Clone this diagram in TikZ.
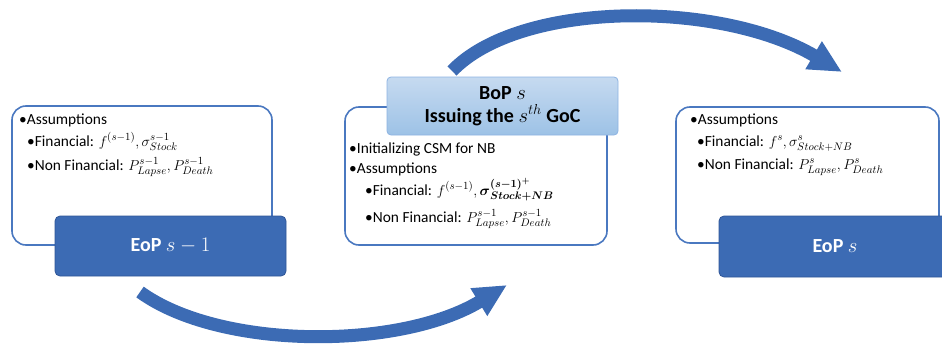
\documentclass[tikz,border=0pt]{standalone}
\usepackage{amsmath}
\usepackage{fontspec}
\setmainfont{Carlito}
\usetikzlibrary{arrows.meta}
\definecolor{dkblue}{HTML}{3C6BB4}
\definecolor{dkedge}{HTML}{2F5597}
\definecolor{lnblue}{HTML}{4A78C0}
\definecolor{ltop}{HTML}{C6DAF0}
\definecolor{lbot}{HTML}{9DC2E6}
\definecolor{ledge}{HTML}{8DB3E2}
\begin{document}
\begin{tikzpicture}[x=1pt,y=-1pt,
  panel/.style={draw=lnblue, line width=1.6pt, fill=white, rounded corners=14pt, inner sep=0pt},
  eopbox/.style={draw=dkedge, line width=0.8pt, fill=dkblue, rounded corners=5pt, inner sep=0pt,
    text=white, font=\fontsize{20}{24}\selectfont\bfseries},
  bopbox/.style={draw=ledge, line width=0.8pt, shading=axis, top color=ltop, bottom color=lbot,
    rounded corners=4pt, inner sep=0pt, align=center, font=\fontsize{20}{22}\selectfont\bfseries},
  txt/.style={anchor=base west, inner sep=0pt, font=\fontsize{15.4}{18}\selectfont},
  bigarrow/.style={draw=dkblue, line width=13pt, -{Triangle[length=33pt,width=30pt]}}
]
\clip (0,0) rectangle (942,345);
\useasboundingbox (0,0) rectangle (942,345);

% left
\node[panel, minimum width=260pt, minimum height=139pt] (lp) at (142,175.5) {};
\node[txt] (l1) at (19,124) {•Assumptions};
\node[txt] (l2) at (27,146) {•Financial: $f^{(s-1)},\sigma^{s-1}_{Stock}$};
\node[txt] (l3) at (27,170) {•Non Financial: $P^{s-1}_{Lapse},P^{s-1}_{Death}$};
\node[eopbox, minimum width=231pt, minimum height=60pt] (eop1) at (170.5,246) {EoP $s-1$};

% middle
\node[panel, minimum width=262pt, minimum height=138pt] (mp) at (476,176) {};
\node[bopbox, minimum width=231pt, minimum height=58pt] (bop) at (502.5,106) {BoP $s$\\[1pt]Issuing the $s^{th}$ GoC};
\node[txt] (m1) at (349,153) {•Initializing CSM for NB};
\node[txt] (m2) at (349,173) {•Assumptions};
\node[txt] (m3) at (365,195) {•Financial: $f^{(s-1)},\boldsymbol{\sigma}^{\boldsymbol{(s-1)^+}}_{\boldsymbol{Stock+NB}}$};
\node[txt] (m4) at (365,222) {•Non Financial: $P^{s-1}_{Lapse},P^{s-1}_{Death}$};

% right
\node[panel, minimum width=263pt, minimum height=136pt] (rp) at (807.5,175) {};
\node[txt] (r1) at (690,124) {•Assumptions};
\node[txt] (r2) at (697,146) {•Financial: $f^{s},\sigma^{s}_{Stock+NB}$};
\node[txt] (r3) at (697,169) {•Non Financial: $P^{s}_{Lapse},P^{s}_{Death}$};
\node[eopbox, minimum width=232pt, minimum height=61pt] (eop2) at (835,246.5) {EoP $s$};

% arrows
\coordinate (b1) at (140,292);
\coordinate (b2) at (507,285);
\coordinate (t1) at (452,71);
\coordinate (t2) at (842,72);
\draw[bigarrow] (b1) .. controls (220,350) and (400,350) .. (b2);
\draw[bigarrow] (t1) .. controls (520,0) and (720,0) .. (t2);
\end{tikzpicture}
\end{document}
